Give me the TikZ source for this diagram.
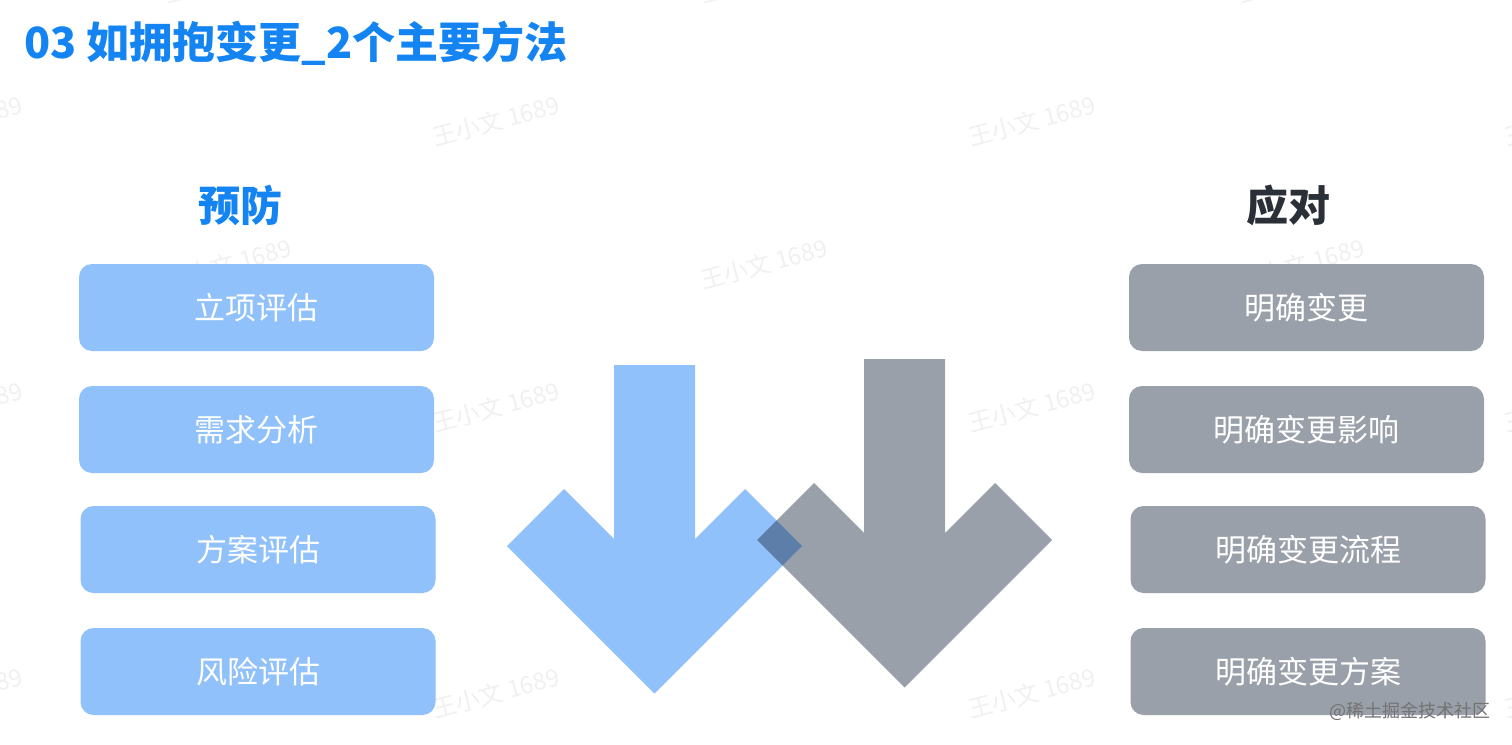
\documentclass[tikz,border=0pt]{standalone}
\usepackage{fontspec}
\setmainfont{Noto Sans CJK SC}

\definecolor{titleblue}{HTML}{1384F2}
\definecolor{boxblue}{HTML}{90C1FA}
\definecolor{boxgray}{HTML}{9AA0A9}
\definecolor{headgray}{HTML}{2B3038}
\definecolor{overlapblue}{HTML}{5C7EA9}

\begin{document}
\begin{tikzpicture}[x=1pt, y=-1pt,
    box/.style={rounded corners=13pt, minimum width=355pt, minimum height=87pt,
        inner sep=0pt, text=white, font=\fontsize{31}{36}\selectfont},
    bluebox/.style={box, fill=boxblue},
    graybox/.style={box, fill=boxgray},
    heading/.style={inner sep=0pt, font=\fontsize{42}{50}\selectfont\bfseries},
    watermark/.style={rotate=15, text=black, opacity=0.06, font=\fontsize{24}{28}\selectfont},
    downarrow/.style={insert path={(614,365) -- (614,539) -- (564,489) -- (507,546)
        -- (654.5,693.5) -- (802,546) -- (745,489) -- (695,539) -- (695,365) -- cycle}}]

    % Page
    \useasboundingbox (0,0) rectangle (1512,744);
    \fill[white] (0,0) rectangle (1512,744);

    % Watermarks, under everything
    \foreach \row [count=\r] in {121,407,693}
        \foreach \col [count=\c] in {-41,496,1032,1568}
            \node[watermark] (wma\r\c) at (\col,\row) {王小文 1689};
    \foreach \row [count=\r] in {-22,264,550}
        \foreach \col [count=\c] in {228,764,1301}
            \node[watermark] (wmb\r\c) at (\col,\row) {王小文 1689};

    % Title
    \node[anchor=west, inner sep=0pt, text=titleblue, font=\fontsize{43}{50}\selectfont\bfseries]
        (title) at (24,43) {03 如拥抱变更\_2个主要方法};

    % Headings
    \node[heading, text=titleblue] (prevent) at (240,205) {预防};
    \node[heading, text=headgray] (respond) at (1288,205) {应对};

    % Left column: prevention
    \node[bluebox] (lbox1) at (256.5,307.5) {立项评估};
    \node[bluebox] (lbox2) at (256.5,429.5) {需求分析};
    \node[bluebox] (lbox3) at (258,549.5) {方案评估};
    \node[bluebox] (lbox4) at (258,671.5) {风险评估};

    % Right column: response
    \node[graybox] (rbox1) at (1306.5,307.5) {明确变更};
    \node[graybox] (rbox2) at (1306.5,429.5) {明确变更影响};
    \node[graybox] (rbox3) at (1308,549.5) {明确变更流程};
    \node[graybox] (rbox4) at (1308,671.5) {明确变更方案};

    % Two big arrows, the overlap in a darker tone
    \fill[boxgray, shift={(250,-6)}, downarrow];
    \fill[boxblue, downarrow];
    \begin{scope}
        \clip[downarrow];
        \fill[overlapblue, shift={(250,-6)}, downarrow];
    \end{scope}

    % Site mark
    \node[text=black!55, font=\fontsize{18}{20}\selectfont] (site) at (1410,711) {@稀土掘金技术社区};
\end{tikzpicture}
\end{document}
